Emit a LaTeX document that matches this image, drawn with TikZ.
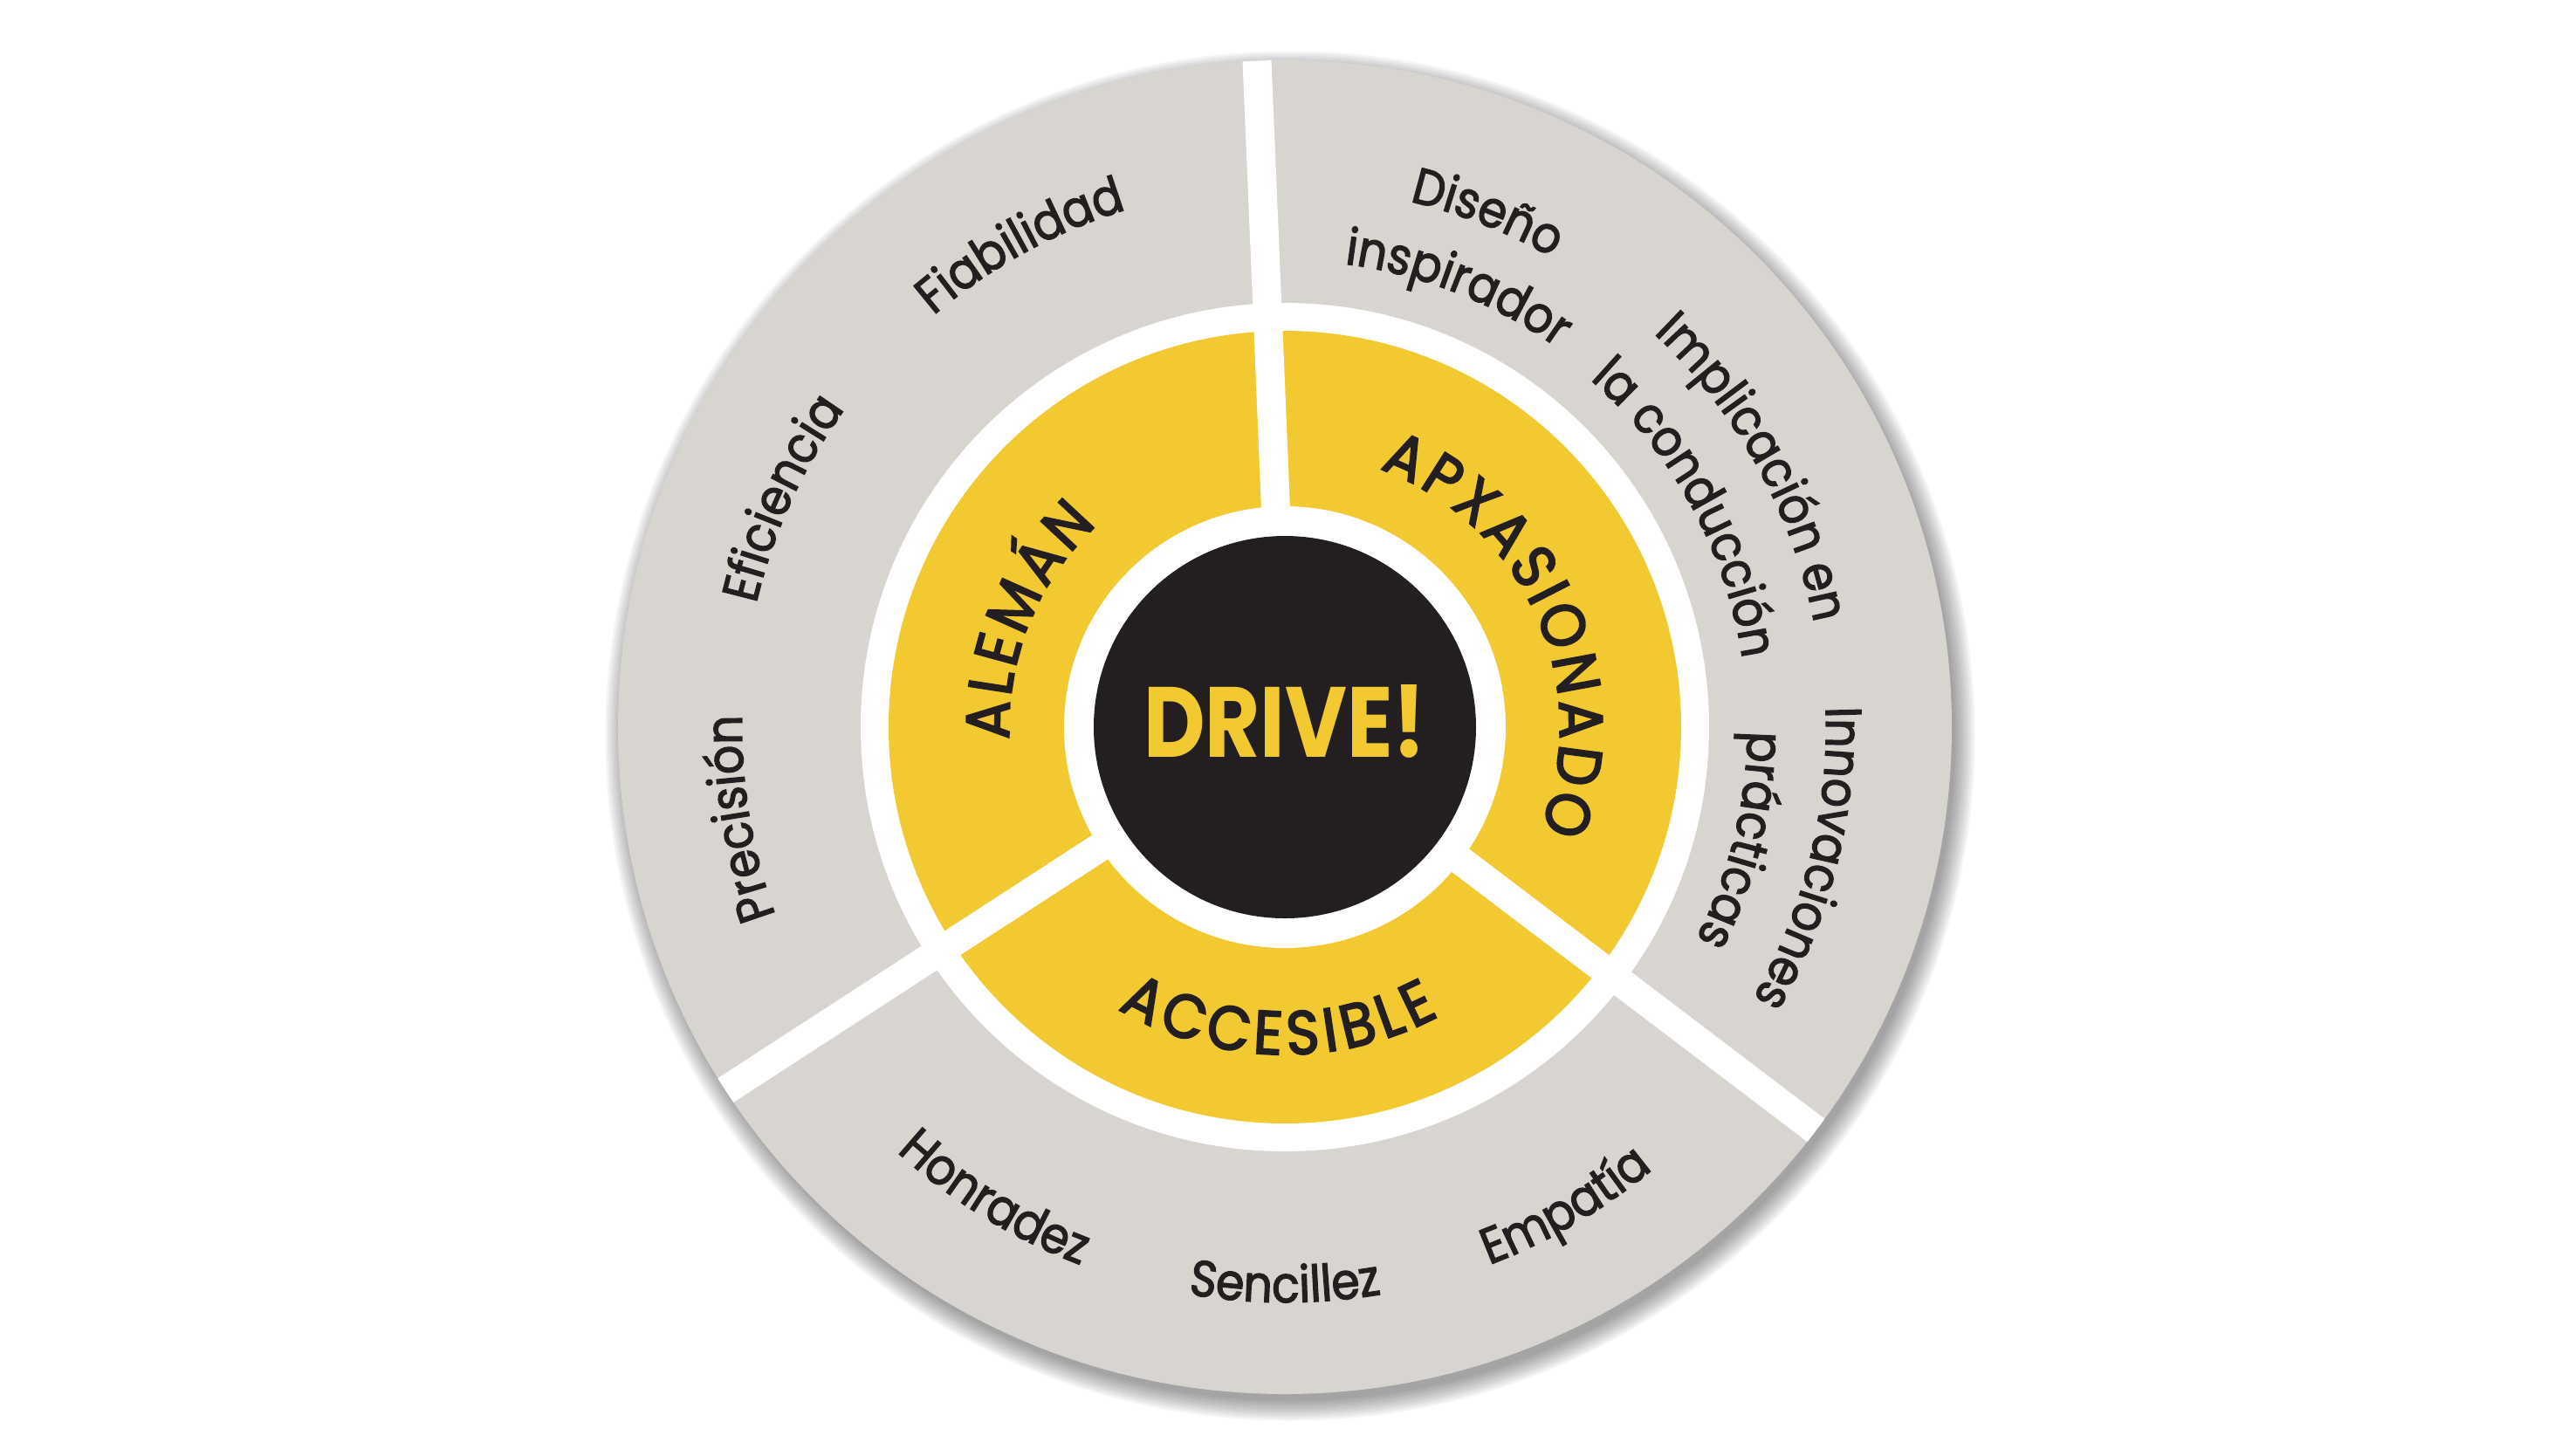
\documentclass[tikz,border=0pt]{standalone}
\usepackage{fontspec}
\setmainfont{Poppins}
\newfontfamily\wordfont[FakeStretch=0.9, FakeBold=2.2]{Poppins}
\newfontfamily\capsfont[FakeStretch=0.92, FakeBold=3]{Poppins}
\newfontfamily\drivefont[FakeStretch=0.85]{Poppins}
\usetikzlibrary{decorations.text}
\definecolor{wheelgrey}{HTML}{D8D4CF}
\definecolor{wheelyellow}{HTML}{F2C931}
\definecolor{ink}{HTML}{231F20}
\newcommand\wordstyle{\wordfont\fontsize{16.5}{20}\selectfont}
\newcommand\capsstyle{\capsfont\fontsize{20}{24}\selectfont}
\newcommand\drivestyle{\drivefont\bfseries\fontsize{32.5}{36}\selectfont}

\begin{document}
\begin{tikzpicture}
\tikzset{
gap/.style = {draw=white, line width=0.33cm},
outerword/.style = {decorate, decoration={text along path, text={|\wordstyle|#1}, text color=ink, text align=center}},
capword/.style = {decorate, decoration={text along path, text={|\capsstyle|#1}, text color=ink, text align=fit to path}}
}
\useasboundingbox (-14.72,-8.34) rectangle (14.70,8.33);

     % soft shadow and rings
     \foreach \k in {0,...,9}
          \fill [black, opacity=0.045] (0.06,-0.10) circle ({7.62+0.025*\k});
     \fill [wheelgrey] (0,0) circle (7.64);
     \fill [white] (0,0) circle (4.86);
     \fill [wheelyellow] (0,0) circle (4.54);
     \begin{scope}
          \clip (0,0) circle (7.64);
          \foreach \a in {92.4,213,322.8}
               \draw [gap] (0,0) -- (\a:8);
     \end{scope}
     \fill [white] (0,0) circle (2.53);
     \fill [ink] (0,0) circle (2.19);

     \node [text=wheelyellow, font=\drivestyle] (drive) at (0,0.07) {DRIVE!};

     % yellow ring
     \path [capword=ALEMÁN] (182.5:3.16) arc (182.5:132.9:3.16);
     \path [capword=APXASIONADO] (69.8:3.15) arc (69.8:-21.8:3.15);
     \path [capword=ACCESIBLE] (239.4:3.75) arc (239.4:298.1:3.75);

     % grey ring
     \foreach \a/\r/\w in {189.5/6.22/Precisión, 155.5/6.22/Eficiencia, 118.75/6.20/Fiabilidad,
          68.5/6.19/Diseño, 68.5/5.35/inspirador, 29/6.18/Implicación en, 28.6/5.30/la conducción,
          -14/6.20/Innovaciones, -13.9/5.30/prácticas}
          \path [outerword/.expanded=\w] (\a+25:\r) arc (\a+25:\a-25:\r);
     \foreach \a/\r/\w in {238.4/6.59/Honradez, 270/6.59/Sencillez, 300.3/6.59/Empatía}
          \path [outerword/.expanded=\w] (\a-25:\r) arc (\a-25:\a+25:\r);
\end{tikzpicture}
\end{document}
